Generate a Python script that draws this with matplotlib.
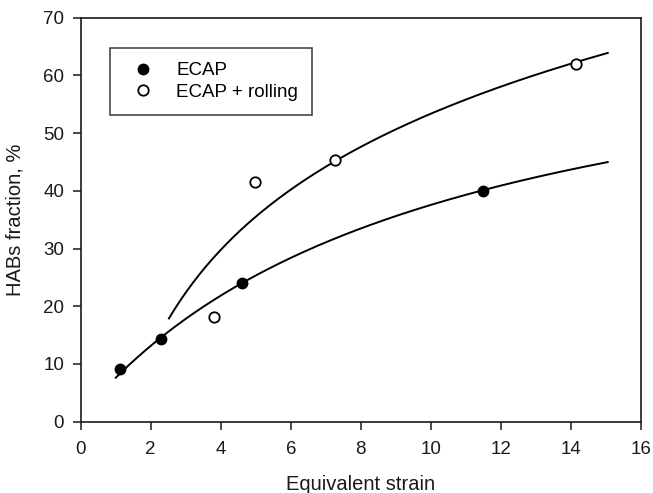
import numpy as np
import matplotlib
matplotlib.use('Agg')
import matplotlib.pyplot as plt

plt.rcParams['font.family'] = ['Liberation Sans', 'DejaVu Sans']

# measured HAB fractions
ecap_strain = [1.13, 2.30, 4.60, 11.50]
ecap_habs = [9.2, 14.4, 24.0, 40.0]
roll_strain = [3.80, 4.97, 7.26, 14.14]
roll_habs = [18.1, 41.6, 45.4, 62.0]

# trend lines: ECAP -> y = c + a*x/(b+x), ECAP + rolling -> y = y0 + k*ln(x)
ecap_fit = {'a': 73.5, 'b': 10.1, 'c': 1.0, 'x_from': 1.0, 'x_to': 15.05}
roll_fit = {'y0': -5.9, 'k': 25.74, 'x_from': 2.52, 'x_to': 15.05}

x_ticks = [0, 2, 4, 6, 8, 10, 12, 14, 16]
y_ticks = [0, 10, 20, 30, 40, 50, 60, 70]

fig = plt.figure(figsize=(6.53, 4.93), dpi=100)
ax = fig.add_axes([0.1236, 0.1446, 0.8580, 0.8195])

xe = np.linspace(ecap_fit['x_from'], ecap_fit['x_to'], 200)
ye = ecap_fit['c'] + ecap_fit['a'] * xe / (ecap_fit['b'] + xe)
xr = np.linspace(roll_fit['x_from'], roll_fit['x_to'], 200)
yr = roll_fit['y0'] + roll_fit['k'] * np.log(xr)

ax.plot(xe, ye, color='black', lw=1.4, zorder=2)
ax.plot(xr, yr, color='black', lw=1.4, zorder=2)

ax.plot(ecap_strain, ecap_habs, 'o', color='black', ms=7.5,
        label='ECAP', zorder=3)
ax.plot(roll_strain, roll_habs, 'o', mfc='white', mec='black', ms=7.5,
        mew=1.3, label='ECAP + rolling', zorder=3)

ax.set_xlim(0, 16)
ax.set_ylim(0, 70)
ax.set_xticks(x_ticks)
ax.set_yticks(y_ticks)
ax.tick_params(direction='out', length=6, width=1.1, labelsize=13.5,
               colors='#1a1a1a')
ax.tick_params(axis='x', pad=8)
ax.tick_params(axis='y', pad=6)
for s in ax.spines.values():
    s.set_linewidth(1.2)
    s.set_color('#1a1a1a')

ax.set_xlabel('Equivalent strain', fontsize=14.5, color='#1a1a1a')
ax.set_ylabel('HABs fraction, %', fontsize=14.5, color='#1a1a1a')
ax.xaxis.set_label_coords(0.5, -0.133)
ax.yaxis.set_label_coords(-0.100, 0.5)

leg = ax.legend(loc='upper left', bbox_to_anchor=(0.052, 0.925),
                borderaxespad=0, fontsize=13.5, frameon=True, fancybox=False,
                handlelength=2.0, handletextpad=0.8, borderpad=0.75,
                labelspacing=0.25, numpoints=1)
leg.get_frame().set_edgecolor('#1a1a1a')
leg.get_frame().set_linewidth(1.2)

fig.savefig('out.png', dpi=100)
